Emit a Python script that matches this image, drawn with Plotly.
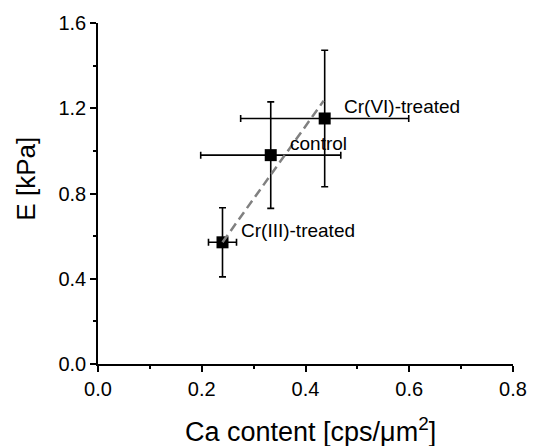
import plotly.graph_objects as go

# Data
groups = ["Cr(III)-treated", "control", "Cr(VI)-treated"]
ca_content = [0.240, 0.333, 0.437]
ca_err = [0.027, 0.135, 0.162]
modulus_E = [0.571, 0.980, 1.152]
modulus_err = [0.162, 0.250, 0.320]

fit_x = [0.240, 0.435]
fit_y = [0.571, 1.235]

x_ticks = [0.0, 0.2, 0.4, 0.6, 0.8]
y_ticks = [0.0, 0.4, 0.8, 1.2, 1.6]
x_tick_text = ["0.0", "0.2", "0.4", "0.6", "0.8"]
y_tick_text = ["0.0", "0.4", "0.8", "1.2", "1.6"]
x_minor = [0.1, 0.3, 0.5, 0.7]
y_minor = [0.2, 0.6, 1.0, 1.4]

FONT = "Liberation Sans"

fig = go.Figure()

fig.add_trace(go.Scatter(
    x=ca_content, y=modulus_E, mode="markers",
    marker=dict(symbol="square", size=12, color="black"),
    error_x=dict(type="data", array=ca_err, color="black", thickness=1.6, width=3.5),
    error_y=dict(type="data", array=modulus_err, color="black", thickness=1.6, width=3.5),
    showlegend=False,
))

fig.add_trace(go.Scatter(
    x=fit_x, y=fit_y, mode="lines",
    line=dict(color="#808080", width=2.5, dash="9px,5px"),
    showlegend=False,
))

label_offsets = [(0.0325, 0.056), (0.033, 0.056), (0.033, 0.058)]
for g, x, y, (dx, dy) in zip(groups, ca_content, modulus_E, label_offsets):
    fig.add_annotation(x=x + dx, y=y + dy, text=g, showarrow=False,
                       xanchor="left", yanchor="middle",
                       font=dict(size=19, color="black", family=FONT))

fig.add_annotation(xref="paper", yref="paper", x=-0.174, y=0.543, text="E [kPa]",
                   showarrow=False, textangle=-90, xanchor="center", yanchor="middle",
                   font=dict(size=26, color="black", family=FONT))
fig.add_annotation(xref="paper", yref="paper", x=0.512, y=-0.195,
                   text="Ca content [cps/\u03bcm<sup>2</sup>]",
                   showarrow=False, xanchor="center", yanchor="middle",
                   font=dict(size=27, color="black", family=FONT))

fig.update_layout(
    width=539, height=446,
    margin=dict(l=98, r=16, t=23, b=82),
    plot_bgcolor="white", paper_bgcolor="white",
    font=dict(family=FONT, color="black", size=20),
    xaxis=dict(
        range=[0, 0.8], tickmode="array", tickvals=x_ticks, ticktext=x_tick_text,
        showline=True, linecolor="black", linewidth=1.5,
        ticks="outside", ticklen=6, tickwidth=1.5, tickcolor="black",
        showgrid=False, zeroline=False,
        tickfont=dict(size=20, color="black", family=FONT),
        minor=dict(ticks="outside", tickvals=x_minor, ticklen=3, tickwidth=1.5, tickcolor="black"),
    ),
    yaxis=dict(
        range=[0, 1.6], tickmode="array", tickvals=y_ticks, ticktext=y_tick_text,
        showline=True, linecolor="black", linewidth=1.5,
        ticks="outside", ticklen=6, tickwidth=1.5, tickcolor="black",
        showgrid=False, zeroline=False,
        tickfont=dict(size=20, color="black", family=FONT),
        minor=dict(ticks="outside", tickvals=y_minor, ticklen=3, tickwidth=1.5, tickcolor="black"),
    ),
)

fig.write_html("out.html")
